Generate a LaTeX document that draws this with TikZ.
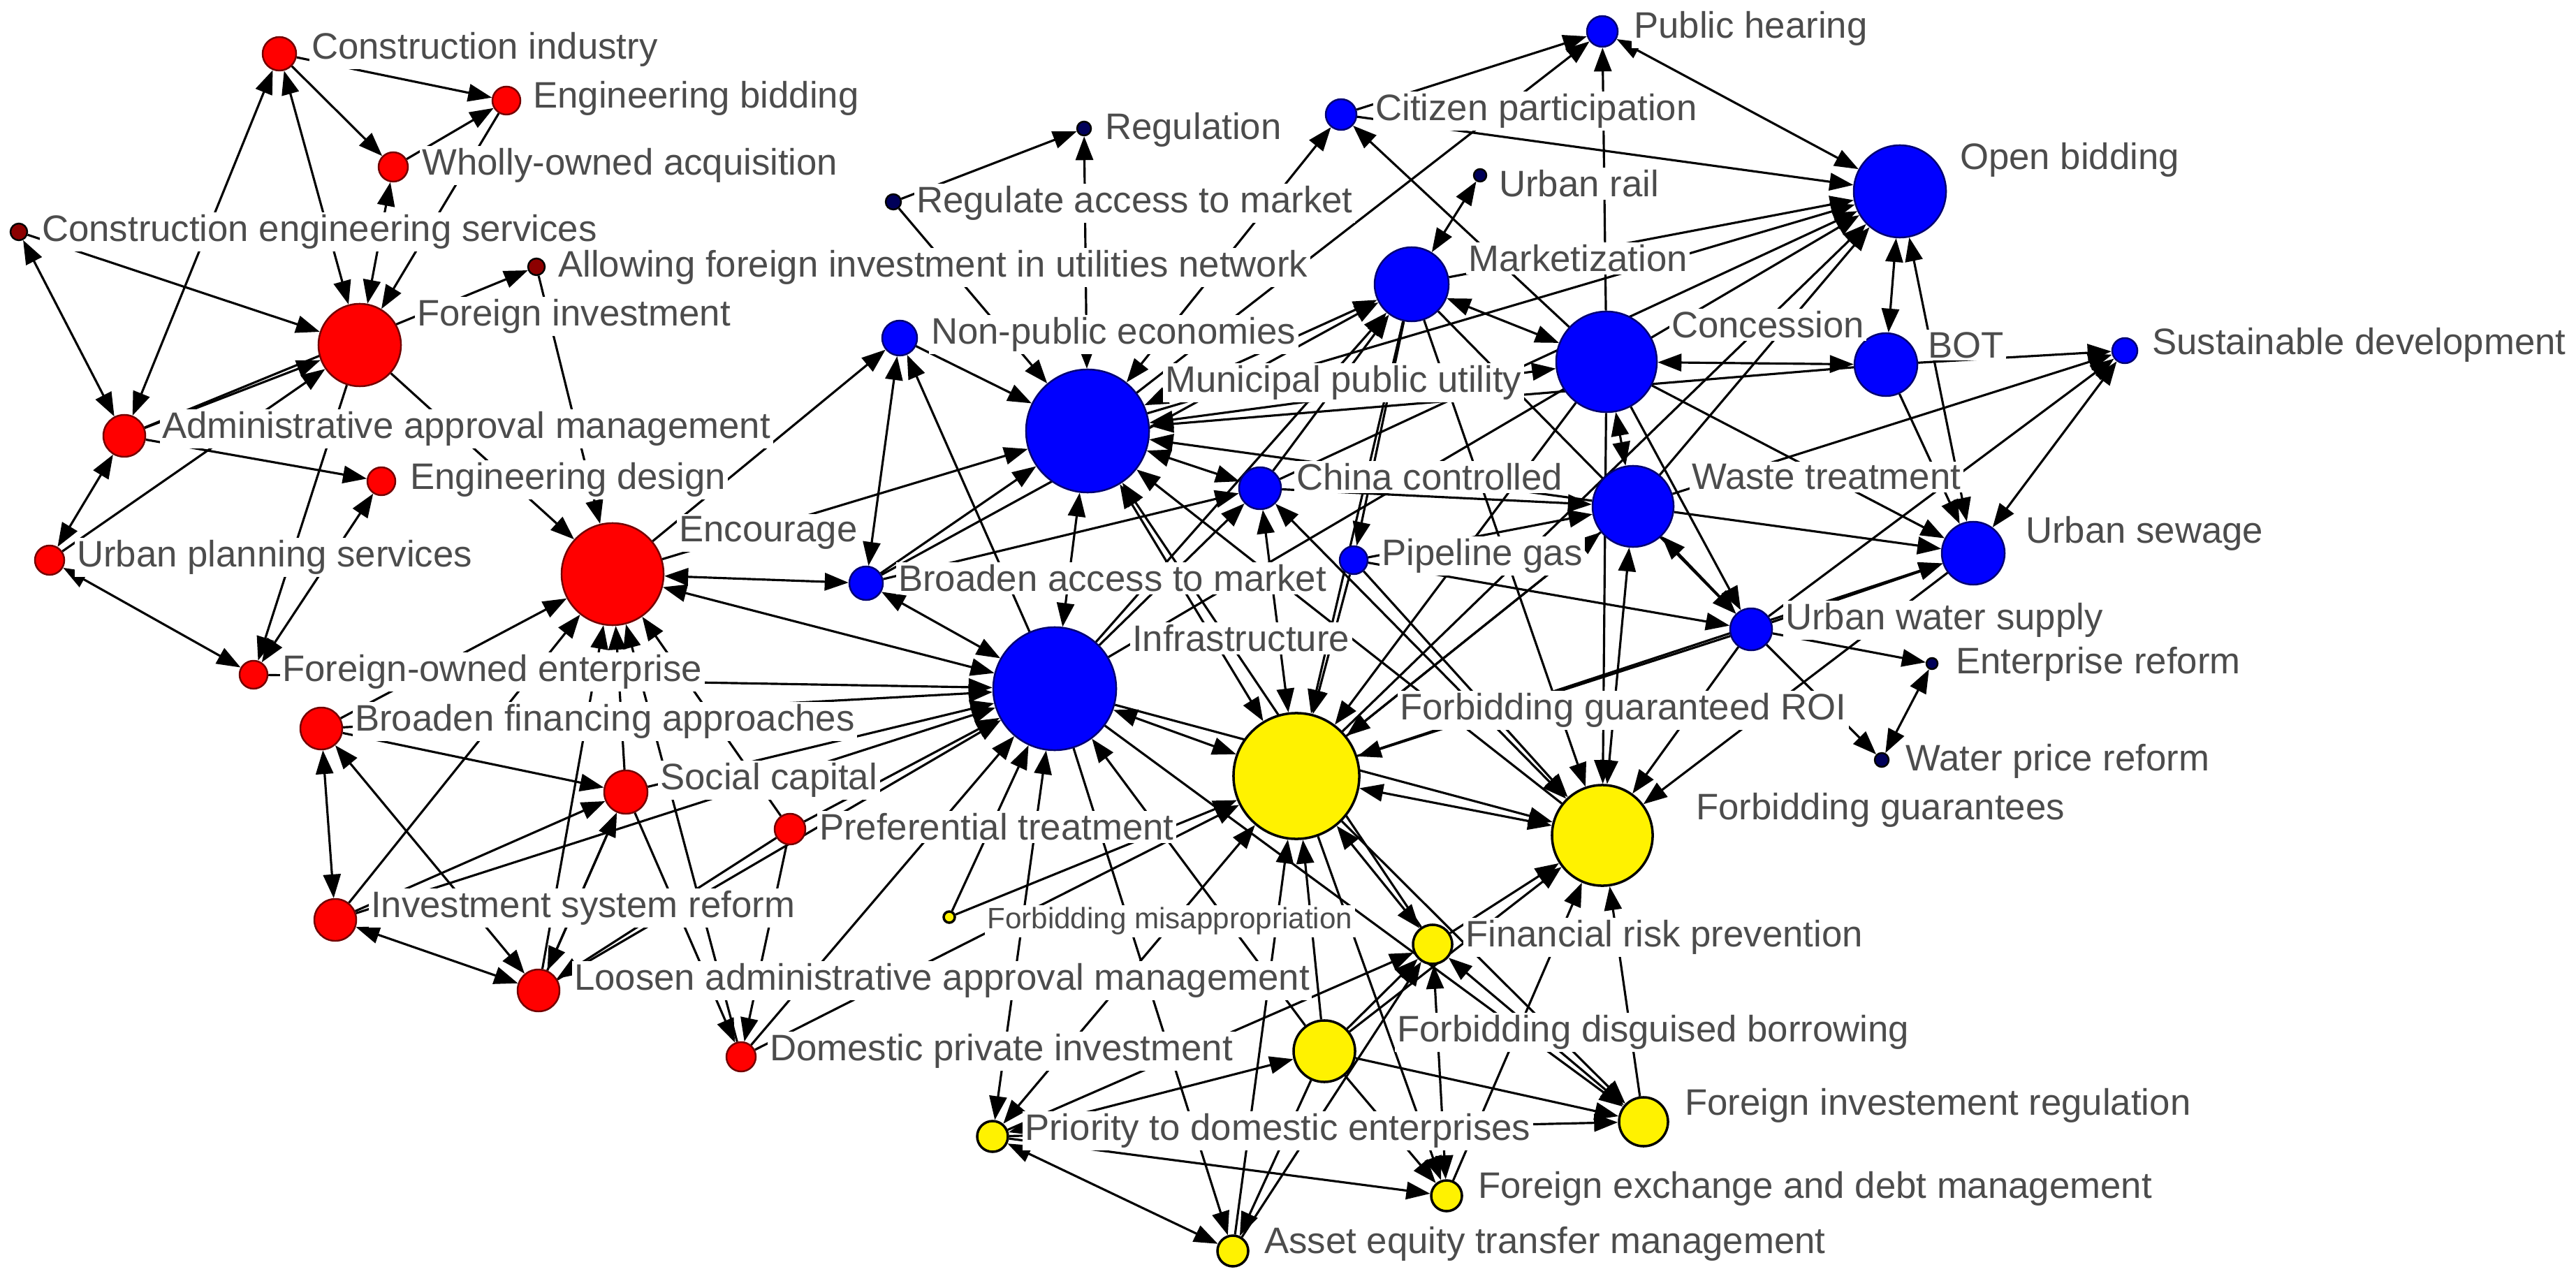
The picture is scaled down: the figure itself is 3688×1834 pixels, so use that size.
\documentclass[tikz,border=0pt]{standalone}
\usepackage{fontspec}
\setmainfont{Liberation Sans}
\usetikzlibrary{arrows.meta}
\pgfdeclarelayer{fondo}
\pgfdeclarelayer{frente}
\pgfsetlayers{fondo,main,frente}
\tikzset{
  nodo/.style={circle, draw, line width=0.7pt, inner sep=0pt},
  rojo/.style={nodo, fill=red, draw=red!45!black},
  rojoos/.style={nodo, fill=red!55!black, draw=black},
  azul/.style={nodo, fill=blue, draw=blue!45!black},
  azulos/.style={nodo, fill=blue!35!black, draw=black},
  amar/.style={nodo, fill=yellow, draw=black, line width=1pt},
  etq/.style={anchor=west, fill=white, inner sep=1pt, text=black!70, font=\fontsize{15}{16}\selectfont},
  etqchica/.style={etq, font=\fontsize{12}{13}\selectfont},
  fl/.style={-{Triangle[length=0.34cm,width=0.25cm]}, line width=0.9pt},
  dfl/.style={{Triangle[length=0.34cm,width=0.25cm]}-{Triangle[length=0.34cm,width=0.25cm]}, line width=0.9pt},
}

\begin{document}
\begin{tikzpicture}[x=0.01cm, y=-0.01cm]
  \useasboundingbox (0,0) rectangle (3688,1834);
  %nodos rojos
  \node[rojo, minimum size=0.48cm] (ci) at (400,77) {};
  \node[rojo, minimum size=0.40cm] (eb) at (725,144) {};
  \node[rojo, minimum size=0.42cm] (woa) at (563,239) {};
  \node[rojoos, minimum size=0.24cm] (ces) at (27,332) {};
  \node[rojoos, minimum size=0.24cm] (afi) at (768,382) {};
  \node[rojo, minimum size=1.18cm] (fi) at (515,494) {};
  \node[rojo, minimum size=0.60cm] (aam) at (178,624) {};
  \node[rojo, minimum size=0.40cm] (ed) at (546,689) {};
  \node[rojo, minimum size=0.42cm] (ups) at (71,802) {};
  \node[rojo, minimum size=1.46cm] (enc) at (877,822) {};
  \node[rojo, minimum size=0.40cm] (foe) at (363,966) {};
  \node[rojo, minimum size=0.60cm] (bfa) at (460,1043) {};
  \node[rojo, minimum size=0.62cm] (sc) at (896,1134) {};
  \node[rojo, minimum size=0.44cm] (pt) at (1131,1187) {};
  \node[rojo, minimum size=0.60cm] (isr) at (480,1317) {};
  \node[rojo, minimum size=0.60cm] (laam) at (771,1418) {};
  \node[rojo, minimum size=0.42cm] (dpi) at (1061,1513) {};
  %nodos azules
  \node[azulos, minimum size=0.20cm] (reg) at (1552,184) {};
  \node[azulos, minimum size=0.22cm] (ram) at (1279,289) {};
  \node[azul, minimum size=0.50cm] (npe) at (1288,484) {};
  \node[azul, minimum size=1.76cm] (mpu) at (1557,617) {};
  \node[azul, minimum size=0.48cm] (bam) at (1240,835) {};
  \node[azul, minimum size=1.76cm] (infra) at (1510,986) {};
  \node[azul, minimum size=0.60cm] (cc) at (1804,699) {};
  \node[azul, minimum size=0.44cm] (ph) at (2294,45) {};
  \node[azul, minimum size=0.44cm] (cp) at (1920,164) {};
  \node[azulos, minimum size=0.18cm] (ur) at (2119,251) {};
  \node[azul, minimum size=1.06cm] (mkt) at (2021,407) {};
  \node[azul, minimum size=1.44cm] (con) at (2300,518) {};
  \node[azul, minimum size=1.32cm] (ob) at (2720,274) {};
  \node[azul, minimum size=0.90cm] (bot) at (2700,522) {};
  \node[azul, minimum size=0.36cm] (sd) at (3042,502) {};
  \node[azul, minimum size=1.16cm] (wt) at (2338,725) {};
  \node[azul, minimum size=0.40cm] (pg) at (1938,802) {};
  \node[azul, minimum size=0.60cm] (uws) at (2507,901) {};
  \node[azul, minimum size=0.90cm] (us) at (2825,792) {};
  \node[azulos, minimum size=0.16cm] (er) at (2766,950) {};
  \node[azulos, minimum size=0.20cm] (wpr) at (2694,1088) {};
  %nodos amarillos
  \node[amar, minimum size=1.80cm] (inf) at (1856,1111) {};
  \node[amar, minimum size=1.44cm] (fg) at (2294,1196) {};
  \node[amar, minimum size=0.56cm] (frp) at (2051,1352) {};
  \node[amar, minimum size=0.88cm] (fdb) at (1896,1505) {};
  \node[amar, minimum size=0.16cm] (fm) at (1359,1313) {};
  \node[amar, minimum size=0.70cm] (fir) at (2353,1606) {};
  \node[amar, minimum size=0.44cm] (pde) at (1421,1627) {};
  \node[amar, minimum size=0.44cm] (fedm) at (2071,1712) {};
  \node[amar, minimum size=0.44cm] (aetm) at (1765,1791) {};

  %aristas
  \begin{pgfonlayer}{fondo}
    \foreach \a/\b in {ci/eb, ci/woa, woa/eb, eb/fi, ces/fi, aam/afi, afi/enc, aam/fi, ups/fi, fi/foe,
      aam/ed, fi/enc, bfa/enc, isr/enc, sc/enc, laam/enc, dpi/enc, pt/enc, bfa/sc, isr/sc, laam/sc,
      pt/laam, sc/dpi, pt/dpi, foe/infra, bfa/infra, sc/infra, isr/infra, laam/infra, pt/infra,
      dpi/infra, fm/infra, fdb/infra, enc/mpu, bam/mpu, enc/npe, infra/npe, npe/mpu, ram/mpu, ram/reg,
      mpu/ph, cp/ph, con/ph, cp/ob, con/cp, mkt/ob, mpu/ob, cc/ob, infra/ob, inf/ob, wt/ob, bot/sd,
      wt/sd, uws/sd, pg/fg, pg/uws, pg/wt, cc/wt, inf/wt, wt/us, uws/er, uws/wpr, uws/us, inf/us,
      bot/us, con/us, pg/inf, wt/inf, con/inf, mkt/inf, uws/inf, mkt/fg, con/fg, uws/fg, infra/fg,
      us/fg, frp/fg, fdb/fg, fir/fg, fedm/fg, fm/inf, fdb/inf, aetm/inf, dpi/inf, fdb/frp, pde/frp,
      aetm/frp, fdb/fir, inf/fir, infra/fir, pde/fir, fdb/fedm, pde/fedm, inf/fedm, fdb/aetm,
      infra/aetm, frp/mpu, fg/mpu, bam/mkt, cc/mkt, infra/mkt, bot/mpu, wt/mpu, mkt/pg, mkt/uws,
      con/uws, bam/cc, infra/cc}
      \draw[fl] (\a) -- (\b);
    \foreach \a/\b in {aam/ci, fi/ci, woa/fi, ces/aam, ed/foe, ups/foe, ups/aam, bfa/isr, bfa/laam,
      isr/laam, sc/laam, enc/infra, enc/bam, bam/infra, npe/bam, reg/mpu, mpu/cp, ph/ob, mkt/ur,
      ob/bot, ob/us, sd/us, mpu/cc, mpu/mkt, mpu/con, mkt/con, con/bot, con/wt, wt/uws, er/wpr,
      infra/inf, inf/fg, fg/wt, pde/fdb, pde/aetm, infra/pde, inf/pde, frp/inf, mpu/infra, mpu/inf,
      cc/inf, fg/cc, frp/fir, frp/fedm}
      \draw[dfl] (\a) -- (\b);
  \end{pgfonlayer}

  %etiquetas
  \begin{pgfonlayer}{frente}
    \node[etq] (ci-t) at (442,71) {Construction industry};
    \node[etq] (eb-t) at (759,141) {Engineering bidding};
    \node[etq] (woa-t) at (600,237) {Wholly-owned acquisition};
    \node[etq] (ces-t) at (56,332) {Construction engineering services};
    \node[etq] (afi-t) at (795,383) {Allowing foreign investment in utilities network};
    \node[etq] (fi-t) at (593,453) {Foreign investment};
    \node[etq] (aam-t) at (228,614) {Administrative approval management};
    \node[etq] (ed-t) at (583,687) {Engineering design};
    \node[etq] (ups-t) at (106,798) {Urban planning services};
    \node[etq] (enc-t) at (968,763) {Encourage};
    \node[etq] (foe-t) at (400,962) {Foreign-owned enterprise};
    \node[etq] (bfa-t) at (504,1033) {Broaden financing approaches};
    \node[etq] (sc-t) at (941,1117) {Social capital};
    \node[etq] (pt-t) at (1169,1184) {Preferential treatment};
    \node[etq] (isr-t) at (527,1300) {Investment system reform};
    \node[etq] (laam-t) at (818,1404) {Loosen administrative approval management};
    \node[etq] (dpi-t) at (1098,1505) {Domestic private investment};
    \node[etq] (reg-t) at (1578,186) {Regulation};
    \node[etq] (ram-t) at (1308,291) {Regulate access to market};
    \node[etq] (npe-t) at (1329,479) {Non-public economies};
    \node[etq] (mpu-t) at (1664,548) {Municipal public utility};
    \node[etq] (bam-t) at (1282,828) {Broaden access to market};
    \node[etq] (infra-t) at (1617,914) {Infrastructure};
    \node[etq] (cc-t) at (1852,683) {China controlled};
    \node[etq] (ph-t) at (2335,41) {Public hearing};
    \node[etq] (cp-t) at (1965,159) {Citizen participation};
    \node[etq] (ur-t) at (2142,263) {Urban rail};
    \node[etq] (mkt-t) at (2098,370) {Marketization};
    \node[etq] (con-t) at (2389,465) {Concession};
    \node[etq] (ob-t) at (2802,229) {Open bidding};
    \node[etq] (bot-t) at (2756,494) {BOT};
    \node[etq] (sd-t) at (3077,494) {Sustainable development};
    \node[etq] (wt-t) at (2418,683) {Waste treatment};
    \node[etq] (pg-t) at (1974,796) {Pipeline gas};
    \node[etq] (uws-t) at (2552,888) {Urban water supply};
    \node[etq] (us-t) at (2896,764) {Urban sewage};
    \node[etq] (er-t) at (2796,951) {Enterprise reform};
    \node[etq] (wpr-t) at (2724,1090) {Water price reform};
    \node[etq] (inf-t) at (2000,1017) {Forbidding guaranteed ROI};
    \node[etq] (fg-t) at (2424,1160) {Forbidding guarantees};
    \node[etq] (frp-t) at (2094,1342) {Financial risk prevention};
    \node[etq] (fdb-t) at (1996,1478) {Forbidding disguised borrowing};
    \node[etqchica] (fm-t) at (1409,1319) {Forbidding misappropriation};
    \node[etq] (fir-t) at (2408,1583) {Foreign investement regulation};
    \node[etq] (pde-t) at (1463,1619) {Priority to domestic enterprises};
    \node[etq] (fedm-t) at (2112,1702) {Foreign exchange and debt management};
    \node[etq] (aetm-t) at (1806,1781) {Asset equity transfer management};
  \end{pgfonlayer}
\end{tikzpicture}
\end{document}
